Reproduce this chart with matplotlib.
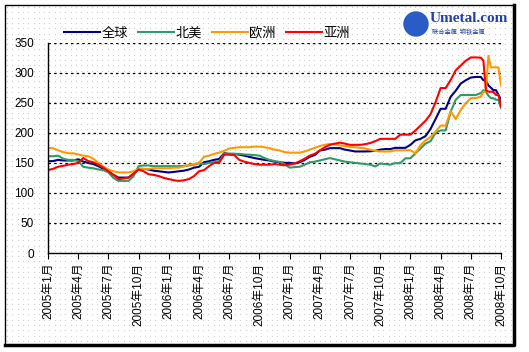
import matplotlib.pyplot as plt
import numpy as np
from matplotlib.lines import Line2D
from matplotlib.patches import Circle

# month index: 0 = 2005年1月, semi-monthly, quarter-monthly at the end
months = np.concatenate([np.arange(0, 43, 0.5), np.arange(43, 45.01, 0.25)])

tick_labels = ["2005年1月", "2005年4月", "2005年7月", "2005年10月",
               "2006年1月", "2006年4月", "2006年7月", "2006年10月",
               "2007年1月", "2007年4月", "2007年7月", "2007年10月",
               "2008年1月", "2008年4月", "2008年7月", "2008年10月"]

series_names = ["全球", "北美", "欧洲", "亚洲"]
series_colors = ["#000080", "#339966", "#FF9900", "#FF0000"]

global_idx = [152.7, 153, 155, 154, 154, 154, 156, 152, 150, 148, 144.5, 140, 136, 130, 125.5,
              125.5, 125.5, 132, 140, 140, 139, 137, 136, 135, 134, 135, 136, 137, 139, 142,
              143.5, 151, 152.7, 155, 156.5, 166, 165, 165, 163.6, 162, 160, 158, 156.5, 155, 154,
              152, 151, 150, 150, 149, 151, 155, 160, 163, 170.6, 172, 174.5, 174.5, 174.5, 172,
              170.6, 169, 169, 169, 169.3, 170, 172, 173, 173, 175, 175, 175, 180, 187.5, 190,
              194.5, 206.5, 223, 240, 240, 260, 270, 282, 287.5, 292, 293,
              293, 287.5, 287.5, 279, 275, 271, 271, 263, 255]

north_america = [161, 161, 162, 157, 155, 155, 153, 143.5, 142, 141, 139, 138, 134, 125, 120,
                 120, 120, 128, 144.5, 145.7, 145.7, 144.5, 144.5, 144.5, 144.5, 144.5, 144.5, 145, 145.7, 147,
                 149, 148, 150, 151, 152.7, 165, 165, 165, 165, 164, 163.6, 163, 162, 158, 155,
                 153, 151.6, 148, 142, 143, 143.5, 147, 151, 152, 154, 156, 158, 156, 154, 152,
                 151, 150, 149, 148, 147, 144, 149, 148, 147, 149.5, 149.5, 157.6, 157.6, 166, 174,
                 182, 186, 200, 204, 204, 235, 255, 263, 263, 263, 263,
                 266, 271, 268, 262, 257.6, 257.6, 255, 255, 241]

europe = [174.5, 174.5, 171, 168, 166, 166, 164, 162, 161, 157, 150, 144, 139, 136, 134,
          134, 134, 136, 140, 140, 140, 141, 141, 141, 141, 142, 142, 144, 147, 148,
          150, 160, 162, 165, 167, 170, 174, 175, 176, 176, 176, 177, 177, 176, 174.5,
          172, 170.6, 168, 167, 167, 167, 169, 172, 175, 178, 180, 181.5, 181, 179, 178,
          176.5, 176, 175, 174, 172, 170, 169, 169, 169, 171, 171, 171, 171, 166, 179.5,
          187.5, 193, 202, 212, 212, 236, 223, 238, 249.5, 257.6, 258,
          260, 268.5, 268.5, 328, 309, 309, 309, 309, 279]

asia = [138, 140, 143.5, 145, 147, 148, 150, 158, 153, 151, 147, 142, 136, 130, 123,
        124, 125.5, 132, 139, 136, 131, 130, 128, 125, 123, 121, 120, 121, 123, 128,
        136, 138, 144.5, 150, 150, 163.6, 163.6, 163, 155, 152, 150, 148, 147, 147, 147,
        148, 147, 146, 147, 149, 152.7, 157, 162, 165, 170.6, 176, 180, 182, 183.7, 182,
        180, 180, 180, 181, 183, 186, 190, 190, 190, 190, 197, 197, 197, 204, 212,
        220, 231, 251, 274.5, 274.5, 288, 304, 312, 320, 325.5, 325.5,
        325, 320, 271, 268.5, 268.5, 268, 263, 263, 244]

W, H = 529, 352
fig = plt.figure(figsize=(W / 100, H / 100), dpi=100)

# background: dotted fill and frame
bg = fig.add_axes([0, 0, 1, 1], zorder=-1)
bg.set_xlim(0, W)
bg.set_ylim(H, 0)
bg.axis("off")
gx, gy = np.meshgrid(np.arange(7, 514, 5.3), np.arange(7, 345, 5.3))
bg.scatter(gx.ravel(), gy.ravel(), s=0.6, color="#c4c4c4", linewidths=0)
bg.add_line(Line2D([5, 5, 514], [345, 5, 5], color="black", lw=1))
bg.add_line(Line2D([5, 514, 514], [345, 345, 5], color="black", lw=2.5))
bg.add_patch(Circle((416, 24), 12, color="#2a5cc8"))
bg.text(430, 19, "Umetal.com", fontsize=11, fontweight="bold", family="Liberation Serif",
        color="#2040a8", va="center", ha="left")
bg.text(432, 32, "联合金属  钢铁金属", fontsize=4.5, color="#2040a8", va="center", ha="left",
        family=["Noto Sans CJK SC", "DejaVu Sans"])

ax = fig.add_axes([48 / W, 1 - 253 / H, 453 / W, (253 - 42.7) / H])
ax.patch.set_alpha(0)
for vals, name, col in zip([global_idx, north_america, europe, asia], series_names, series_colors):
    ax.plot(months, vals, color=col, lw=1.5, label=name)

ax.set_xlim(0, 45)
ax.set_ylim(0, 350)
ax.set_yticks(range(0, 351, 50))
for v in range(50, 351, 50):
    ax.axhline(v, color="black", lw=0.9, ls=(0, (2, 2.5)), zorder=0)
ax.set_xticks(range(0, 46, 3))
ax.set_xticklabels(tick_labels, rotation=90, fontsize=8.5,
                   family=["Liberation Sans", "Noto Sans CJK SC"])
for lab in ax.get_yticklabels():
    lab.set_family("Liberation Sans")
    lab.set_fontsize(8.5)
ax.tick_params(axis="x", direction="out", length=4, width=0.8, pad=3)
ax.tick_params(axis="y", direction="out", length=0, pad=10)
for s in ["top", "right"]:
    ax.spines[s].set_visible(False)
ax.spines["left"].set_linewidth(1)
ax.spines["bottom"].set_linewidth(1)

fig.legend(loc="center", bbox_to_anchor=(207 / W, 1 - 33 / H), ncol=4, frameon=False,
           handlelength=2.7, handletextpad=0.1, columnspacing=0.8,
           prop={"family": ["Noto Sans CJK SC", "DejaVu Sans"], "size": 9.5})

fig.savefig("out.png", dpi=100)
